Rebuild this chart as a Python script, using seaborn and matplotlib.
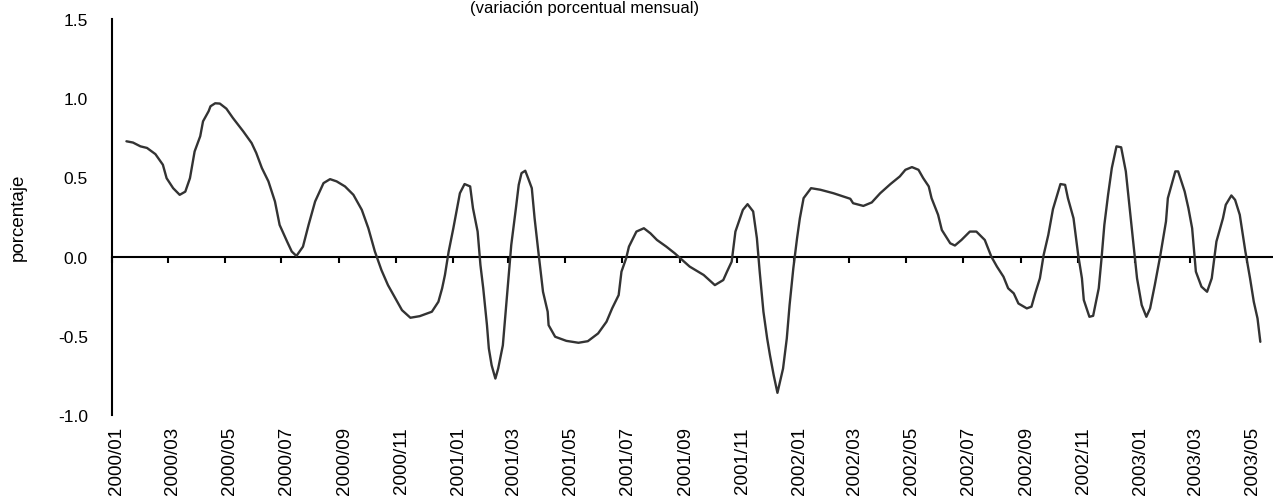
import numpy as np
import pandas as pd
import matplotlib
matplotlib.use("Agg")
import matplotlib.pyplot as plt
import matplotlib.transforms as mtransforms
import seaborn as sns

# ---- data: days since 2000-01-01 and monthly % change ----
dias = [16, 23, 31, 38, 47, 55, 59, 66, 73, 79, 84, 89, 95, 98, 104, 106, 111, 116,
        123, 130, 141, 150, 155, 161, 168, 175, 180, 188, 193, 198, 205, 211, 218,
        227, 234, 241, 250, 259, 268, 275, 282, 289, 296, 304, 311, 320, 330, 343,
        350, 354, 357, 361, 366, 370, 373, 378, 384, 387, 392, 395, 398, 402, 404,
        407, 411, 414, 419, 422, 425, 428, 433, 436, 439, 443, 446, 450, 453, 457,
        462, 467, 468, 475, 487, 500, 510, 521, 530, 536, 543, 546, 551, 554, 562,
        570, 577, 584, 594, 603, 611, 619, 634, 646, 655, 659, 664, 668, 676, 681,
        687, 691, 694, 698, 702, 705, 709, 713, 719, 723, 726, 730, 734, 737, 741,
        749, 759, 773, 791, 794, 805, 814, 823, 834, 844, 850, 857, 864, 869, 875,
        878, 885, 889, 898, 903, 910, 919, 926, 935, 942, 948, 955, 960, 966, 971,
        980, 985, 989, 994, 998, 1003, 1008, 1016, 1021, 1024, 1030, 1035, 1039,
        1041, 1047, 1051, 1057, 1060, 1063, 1067, 1071, 1076, 1081, 1086, 1089,
        1093, 1098, 1103, 1108, 1112, 1117, 1123, 1129, 1131, 1139, 1142, 1149,
        1153, 1157, 1161, 1167, 1173, 1178, 1183, 1190, 1193, 1199, 1203, 1208,
        1214, 1219, 1223, 1227, 1230]
valores = [0.728, 0.72, 0.696, 0.686, 0.647, 0.58, 0.495, 0.432, 0.39, 0.41, 0.495,
           0.664, 0.76, 0.854, 0.918, 0.949, 0.968, 0.966, 0.934, 0.875, 0.791, 0.717,
           0.654, 0.559, 0.475, 0.348, 0.2, 0.095, 0.032, 0.004, 0.063, 0.2, 0.348,
           0.464, 0.489, 0.475, 0.443, 0.39, 0.295, 0.179, 0.032, -0.085, -0.18,
           -0.264, -0.338, -0.386, -0.376, -0.348, -0.285, -0.2, -0.116, 0.032, 0.179,
           0.306, 0.4, 0.458, 0.443, 0.306, 0.158, -0.053, -0.2, -0.433, -0.58,
           -0.686, -0.77, -0.707, -0.56, -0.348, -0.137, 0.073, 0.306, 0.453, 0.527,
           0.542, 0.496, 0.432, 0.242, 0.032, -0.222, -0.348, -0.433, -0.506, -0.532,
           -0.544, -0.534, -0.485, -0.411, -0.327, -0.243, -0.095, -0.011, 0.063,
           0.158, 0.179, 0.147, 0.105, 0.063, 0.021, -0.021, -0.063, -0.116, -0.18,
           -0.148, -0.095, -0.032, 0.158, 0.295, 0.331, 0.285, 0.116, -0.095, -0.348,
           -0.517, -0.623, -0.749, -0.86, -0.707, -0.517, -0.306, -0.074, 0.116,
           0.242, 0.369, 0.432, 0.422, 0.4, 0.365, 0.337, 0.32, 0.342, 0.4, 0.458,
           0.506, 0.548, 0.565, 0.548, 0.496, 0.443, 0.369, 0.264, 0.168, 0.084,
           0.07, 0.105, 0.158, 0.158, 0.105, 0.0, -0.063, -0.127, -0.2, -0.232,
           -0.296, -0.327, -0.316, -0.232, -0.137, 0.01, 0.137, 0.3, 0.458, 0.453,
           0.369, 0.242, 0.01, -0.137, -0.274, -0.38, -0.374, -0.2, -0.011, 0.2,
           0.39, 0.559, 0.696, 0.69, 0.538, 0.369, 0.137, -0.137, -0.306, -0.38,
           -0.327, -0.18, 0.01, 0.222, 0.369, 0.538, 0.538, 0.411, 0.306, 0.179,
           -0.095, -0.19, -0.222, -0.137, 0.095, 0.242, 0.327, 0.386, 0.358, 0.264,
           0.032, -0.137, -0.285, -0.39, -0.538]

etiquetas = ["2000/01", "2000/03", "2000/05", "2000/07", "2000/09", "2000/11",
             "2001/01", "2001/03", "2001/05", "2001/07", "2001/09", "2001/11",
             "2002/01", "2002/03", "2002/05", "2002/07", "2002/09", "2002/11",
             "2003/01", "2003/03", "2003/05"]
yticks = [-1.0, -0.5, 0.0, 0.5, 1.0, 1.5]

titulo = "(variación porcentual mensual)"
ylabel = "porcentaje"

# ---- style ----
sns.set_style("white")
plt.rcParams["font.family"] = ["Liberation Sans", "DejaVu Sans"]

origen = pd.Timestamp("2000-01-01")
tick_pos = [(pd.Timestamp(e.replace("/", "-") + "-01") - origen).days for e in etiquetas]

df = pd.DataFrame({"dia": dias, "valor": valores})

W, H = 1273, 502
fig = plt.figure(figsize=(W / 100, H / 100), dpi=100)
ax = fig.add_axes([111.5 / W, 86 / H, 1 - 111.5 / W, 396 / H])

sns.lineplot(data=df, x="dia", y="valor", ax=ax, color="#333333",
             linewidth=1.7, estimator=None)

ax.set_xlim(0, (W - 111.5) / 0.934)
ax.set_ylim(-1.0, 1.5)

for s in ["top", "right", "bottom"]:
    ax.spines[s].set_visible(False)
ax.spines["left"].set_color("black")
ax.spines["left"].set_linewidth(1.5)

ax.set_yticks(yticks)
ax.set_yticklabels([f"{v:.1f}" for v in yticks])
ax.tick_params(axis="y", direction="out", length=6, width=1.5, color="black",
               labelsize=12.5, pad=11, labelcolor="black")

ax.set_xticks(tick_pos)
ax.set_xticklabels(etiquetas, rotation=90, ha="center", va="top")
ax.tick_params(axis="x", length=0, labelsize=13.5, pad=8, labelcolor="black")
offset = mtransforms.ScaledTranslation(5 / 100, 0, fig.dpi_scale_trans)
for lab in ax.get_xticklabels():
    lab.set_transform(lab.get_transform() + offset)

ax.set_xlabel("")
ax.set_ylabel(ylabel, fontsize=13.5, color="black")
ax.yaxis.set_label_coords(-0.073, (502 - 217 - 86) / 396)

# zero line with tick marks
sec = ax.secondary_xaxis(0, transform=ax.transData)
sec.spines["bottom"].set_color("black")
sec.spines["bottom"].set_linewidth(1.5)
sec.set_xticks(tick_pos)
sec.tick_params(axis="x", direction="out", length=4, width=1.5, color="black",
                labelbottom=False)

fig.text(585 / W, 1 - 1 / H, titulo, ha="center", va="top", fontsize=12,
         color="black")

fig.savefig("out.png", dpi=100)
